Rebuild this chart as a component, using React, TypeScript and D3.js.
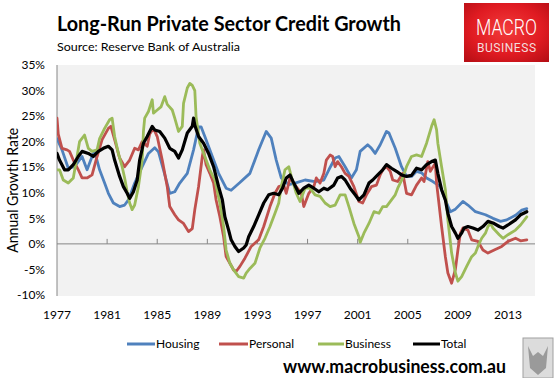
import React from 'react';
import * as d3 from 'd3';

const W = 557;
const H = 378;

// [year, annual growth %]
const housing: [number, number][] = [
  [1977.0, 20.6], [1977.4, 18.4], [1977.9, 14.8], [1978.4, 15.1], [1979.0, 17.1], [1979.4, 14.5],
  [1979.8, 17.1], [1980.0, 18.1], [1980.4, 14.5], [1980.8, 11.9], [1981.1, 9.9], [1981.5, 8.0],
  [1982.0, 7.3], [1982.4, 7.6], [1982.7, 8.6], [1983.2, 11.9], [1983.8, 15.1], [1984.3, 17.7],
  [1984.8, 18.8], [1985.1, 18.0], [1985.5, 14.5], [1986.0, 9.9], [1986.4, 10.2], [1986.8, 11.9],
  [1987.4, 13.8], [1987.9, 18.4], [1988.3, 22.9], [1988.5, 22.9], [1988.8, 21.0], [1989.4, 17.1],
  [1989.9, 13.8], [1990.5, 10.9], [1990.9, 10.5], [1991.6, 12.0], [1992.4, 13.8], [1993.1, 18.4],
  [1993.7, 22.0], [1994.1, 20.7], [1994.5, 16.4], [1994.9, 12.9], [1995.5, 11.6], [1996.0, 11.9],
  [1996.8, 12.5], [1997.6, 12.2], [1998.3, 12.5], [1998.7, 14.5], [1999.2, 16.8], [1999.5, 17.1],
  [2000.0, 15.1], [2000.5, 12.9], [2000.9, 14.5], [2001.2, 18.1], [2001.8, 19.4], [2002.1, 18.7],
  [2002.4, 17.7], [2002.8, 19.4], [2003.3, 22.0], [2003.5, 21.7], [2004.0, 18.7], [2004.5, 15.1],
  [2004.9, 13.2], [2005.3, 13.2], [2005.7, 14.2], [2006.1, 13.9], [2006.5, 12.9], [2007.0, 12.2],
  [2007.6, 11.2], [2008.0, 8.6], [2008.4, 6.3], [2008.8, 6.8], [2009.4, 8.3], [2009.8, 7.6],
  [2010.4, 6.3], [2011.2, 5.7], [2011.8, 5.0], [2012.4, 4.4], [2012.9, 4.7], [2013.6, 5.6],
  [2014.1, 6.6], [2014.5, 6.9],
];

const personal: [number, number][] = [
  [1977.0, 24.6], [1977.1, 21.5], [1977.4, 18.7], [1977.8, 18.4], [1978.0, 18.1], [1978.3, 16.4],
  [1978.7, 14.5], [1979.0, 12.9], [1979.4, 12.9], [1979.8, 13.5], [1980.2, 17.1], [1980.6, 20.4],
  [1981.1, 22.6], [1981.3, 23.0], [1981.6, 20.4], [1982.0, 16.8], [1982.4, 15.1], [1982.8, 16.4],
  [1983.2, 18.7], [1983.5, 18.4], [1983.8, 20.0], [1984.2, 19.1], [1984.4, 21.5], [1984.7, 22.6],
  [1985.0, 21.0], [1985.4, 16.4], [1985.8, 11.2], [1986.0, 7.3], [1986.4, 5.7], [1986.7, 4.7],
  [1987.1, 4.0], [1987.5, 2.4], [1987.8, 3.0], [1988.0, 6.7], [1988.3, 11.2], [1988.6, 17.1],
  [1988.7, 18.4], [1988.9, 15.5], [1989.2, 13.8], [1989.5, 11.9], [1989.7, 8.6], [1990.0, 5.3],
  [1990.3, 1.4], [1990.5, -2.5], [1990.8, -3.8], [1991.1, -5.1], [1991.3, -5.4], [1991.6, -4.4],
  [1992.0, -2.8], [1992.5, -0.5], [1993.1, 0.8], [1993.5, 3.4], [1994.0, 7.3], [1994.4, 9.9],
  [1994.7, 11.2], [1995.1, 11.5], [1995.3, 9.9], [1995.6, 12.9], [1996.0, 11.5], [1996.5, 9.9],
  [1996.7, 7.3], [1997.1, 9.9], [1997.5, 11.2], [1997.7, 12.9], [1998.0, 11.9], [1998.3, 13.8],
  [1998.5, 16.4], [1998.8, 17.4], [1999.0, 17.1], [1999.2, 15.1], [1999.4, 16.1], [1999.7, 15.1],
  [2000.0, 13.8], [2000.3, 13.2], [2000.7, 11.2], [2001.1, 8.3], [2001.4, 8.0], [2001.7, 9.6],
  [2002.1, 11.2], [2002.5, 11.5], [2002.8, 13.5], [2003.0, 14.5], [2003.3, 15.1], [2003.6, 14.2],
  [2003.8, 12.5], [2004.2, 12.2], [2004.6, 13.8], [2004.9, 9.9], [2005.3, 9.6], [2005.7, 11.5],
  [2006.1, 12.9], [2006.3, 12.2], [2006.6, 16.1], [2006.8, 14.2], [2007.2, 15.8], [2007.3, 11.9],
  [2007.7, 3.4], [2008.0, -2.5], [2008.2, -5.7], [2008.5, -7.7], [2008.8, -5.0], [2009.0, -1.2],
  [2009.2, 2.1], [2009.4, 3.1], [2009.8, 2.7], [2010.1, 0.8], [2010.6, 0.5], [2011.0, -1.2],
  [2011.4, -1.8], [2011.9, -1.2], [2012.5, -0.5], [2013.0, 0.5], [2013.6, 1.1], [2014.0, 0.6],
  [2014.5, 0.8],
];

const business: [number, number][] = [
  [1977.0, 14.5], [1977.2, 14.5], [1977.5, 12.5], [1977.9, 11.9], [1978.3, 12.9], [1978.6, 17.1],
  [1978.8, 20.0], [1979.2, 21.3], [1979.5, 18.7], [1979.8, 18.1], [1980.2, 18.4], [1980.4, 20.6],
  [1980.8, 22.6], [1981.2, 24.3], [1981.4, 24.6], [1981.6, 21.0], [1981.9, 17.7], [1982.2, 15.1],
  [1982.4, 12.9], [1982.6, 10.2], [1982.8, 8.0], [1983.0, 6.7], [1983.2, 7.6], [1983.5, 11.2],
  [1983.8, 16.4], [1983.9, 22.0], [1984.0, 24.6], [1984.3, 25.9], [1984.6, 28.2], [1984.7, 25.6],
  [1985.0, 26.2], [1985.3, 26.8], [1985.6, 28.8], [1985.8, 27.3], [1986.2, 26.2], [1986.4, 24.6],
  [1986.7, 22.0], [1987.0, 23.0], [1987.1, 27.5], [1987.4, 30.5], [1987.6, 31.4], [1987.8, 31.0],
  [1988.0, 30.0], [1988.1, 24.9], [1988.4, 19.7], [1988.8, 17.1], [1989.2, 14.5], [1989.6, 12.5],
  [1990.0, 8.0], [1990.3, 3.4], [1990.5, -1.2], [1990.8, -3.8], [1991.1, -5.1], [1991.5, -6.4],
  [1991.9, -6.7], [1992.1, -5.7], [1992.4, -4.8], [1992.8, -3.8], [1993.2, -0.8], [1993.6, 1.1],
  [1994.0, 3.4], [1994.4, 6.0], [1994.7, 8.0], [1994.9, 11.2], [1995.2, 14.5], [1995.5, 15.1],
  [1995.7, 13.2], [1996.1, 9.9], [1996.4, 8.3], [1996.8, 10.9], [1997.2, 10.9], [1997.6, 9.6],
  [1998.0, 9.3], [1998.4, 8.0], [1998.8, 7.3], [1999.2, 7.6], [1999.6, 9.6], [2000.0, 9.6],
  [2000.3, 7.3], [2000.7, 4.0], [2001.1, 1.4], [2001.2, 0.3], [2001.5, 2.1], [2001.9, 4.0],
  [2002.3, 6.3], [2002.7, 6.0], [2003.0, 7.3], [2003.3, 7.3], [2003.7, 8.6], [2004.0, 9.6],
  [2004.2, 10.9], [2004.6, 12.9], [2004.9, 15.1], [2005.3, 17.1], [2005.7, 17.4], [2006.1, 17.1],
  [2006.5, 19.7], [2006.9, 23.0], [2007.1, 24.3], [2007.3, 22.3], [2007.4, 19.7], [2007.7, 15.1],
  [2008.0, 10.6], [2008.2, 4.7], [2008.5, -1.8], [2008.8, -5.7], [2009.0, -7.3], [2009.3, -6.4],
  [2009.7, -4.4], [2010.1, -2.5], [2010.4, -1.8], [2010.6, -0.5], [2010.9, 1.1], [2011.2, 2.1],
  [2011.4, 3.4], [2011.6, 4.0], [2011.8, 3.1], [2012.3, 1.8], [2012.6, 1.1], [2013.0, 1.8],
  [2013.6, 2.7], [2014.0, 3.7], [2014.5, 5.3],
];

const total: [number, number][] = [
  [1977.0, 17.7], [1977.2, 16.4], [1977.6, 14.5], [1977.9, 14.5], [1978.3, 15.5], [1978.7, 17.1],
  [1979.0, 18.1], [1979.5, 17.7], [1979.9, 17.1], [1980.3, 18.1], [1980.7, 18.7], [1981.1, 19.1],
  [1981.4, 18.4], [1981.6, 16.4], [1982.0, 13.2], [1982.3, 11.2], [1982.6, 9.9], [1982.8, 8.9],
  [1983.1, 10.2], [1983.4, 12.5], [1983.6, 16.4], [1983.9, 19.7], [1984.2, 21.0], [1984.6, 23.0],
  [1984.8, 22.3], [1985.2, 22.0], [1985.6, 20.7], [1986.0, 18.7], [1986.4, 18.1], [1986.7, 16.8],
  [1987.0, 18.4], [1987.4, 21.7], [1987.8, 23.0], [1987.9, 24.6], [1988.0, 23.2], [1988.3, 21.0],
  [1988.7, 19.7], [1989.1, 17.7], [1989.5, 15.1], [1989.9, 11.2], [1990.2, 8.6], [1990.4, 5.3],
  [1990.7, 2.7], [1990.9, 0.8], [1991.2, -0.5], [1991.5, -1.5], [1991.9, -0.8], [1992.1, -0.2],
  [1992.3, 1.4], [1992.7, 3.4], [1993.1, 5.7], [1993.5, 8.0], [1993.9, 9.6], [1994.3, 9.9],
  [1994.7, 9.6], [1995.0, 10.9], [1995.3, 12.9], [1995.6, 13.5], [1995.9, 11.9], [1996.3, 9.9],
  [1996.7, 10.9], [1997.1, 11.5], [1997.5, 10.9], [1997.9, 10.2], [1998.3, 10.9], [1998.6, 10.6],
  [1999.1, 11.5], [1999.4, 12.9], [1999.7, 13.2], [2000.0, 12.5], [2000.4, 10.9], [2000.8, 9.6],
  [2001.1, 8.6], [2001.5, 9.6], [2001.9, 11.9], [2002.2, 12.5], [2002.6, 13.5], [2003.0, 14.5],
  [2003.3, 15.5], [2003.7, 14.8], [2004.1, 14.2], [2004.5, 13.5], [2004.9, 13.2], [2005.3, 13.4],
  [2005.7, 14.8], [2006.1, 14.5], [2006.5, 15.5], [2006.9, 16.1], [2007.2, 16.4], [2007.4, 13.8],
  [2007.7, 10.6], [2008.0, 8.6], [2008.2, 6.0], [2008.5, 3.4], [2008.8, 2.1], [2009.0, 1.1],
  [2009.3, 2.1], [2009.5, 3.1], [2009.8, 3.4], [2010.2, 3.1], [2010.6, 2.7], [2011.0, 3.4],
  [2011.4, 4.4], [2011.8, 4.1], [2012.3, 3.4], [2012.6, 3.1], [2013.0, 3.7], [2013.6, 4.7],
  [2014.0, 5.7], [2014.5, 6.3],
];

const seriesNames = ['Housing', 'Personal', 'Business', 'Total'];
const seriesColors = ['#4f81bd', '#c0504d', '#9bbb59', '#000000'];
const yTicks = [-10, -5, 0, 5, 10, 15, 20, 25, 30, 35];
const xTickYears = [1977, 1981, 1985, 1989, 1993, 1997, 2001, 2005, 2009, 2013];

const title = 'Long-Run Private Sector Credit Growth';
const subtitle = 'Source: Reserve Bank of Australia';
const yAxisTitle = 'Annual Growth Rate';
const footer = 'www.macrobusiness.com.au';

export default function App() {
  const plotLeft = 57;
  const plotRight = 535;
  const plotTop = 65;
  const plotBottom = 296;

  const x = d3.scaleLinear().domain([1977, 2013]).range([57, 508]);
  const y = d3.scaleLinear().domain([-10, 35]).range([295, 65]);
  const line = d3
    .line<[number, number]>()
    .x((d) => x(d[0]))
    .y((d) => y(d[1]));

  const allSeries = [housing, personal, business, total];
  const font = 'Lato, "Open Sans", sans-serif';

  const legendItems = [
    { lx: 127, tx: 156 },
    { lx: 219, tx: 249 },
    { lx: 318, tx: 345 },
    { lx: 413, tx: 441 },
  ];
  const legendY = 344;

  return (
    <svg
      width={W}
      height={H}
      style={{ position: 'absolute', left: 0, top: 0, background: '#fff' }}
      fontFamily={font}
    >
      <defs>
        <radialGradient id="logoGrad" cx="50%" cy="45%" r="70%">
          <stop offset="0%" stopColor="#f23b3b" />
          <stop offset="60%" stopColor="#e01b22" />
          <stop offset="100%" stopColor="#b80f16" />
        </radialGradient>
        <clipPath id="plotClip">
          <rect x={plotLeft} y={plotTop} width={plotRight - plotLeft} height={plotBottom - plotTop} />
        </clipPath>
      </defs>

      {/* Title */}
      <text x={57} y={31} fontSize={20} fontWeight="bold" fill="#000" textLength={344} lengthAdjust="spacingAndGlyphs">
        {title}
      </text>
      <text x={57} y={51} fontSize={11.5} fill="#000" textLength={183} lengthAdjust="spacingAndGlyphs">
        {subtitle}
      </text>

      {/* Logo */}
      <rect x={464} y={3} width={85} height={59} fill="url(#logoGrad)" />
      <text x={506.5} y={35} fontSize={22} fill="#fff" textAnchor="middle" fontFamily="Roboto, sans-serif" fontWeight={300} textLength={61} lengthAdjust="spacingAndGlyphs">
        MACRO
      </text>
      <text x={506.5} y={52} fontSize={12} fill="#f3dede" textAnchor="middle" fontFamily="Roboto, sans-serif" textLength={59} lengthAdjust="spacing">
        BUSINESS
      </text>

      {/* Plot area */}
      <rect x={plotLeft} y={plotTop} width={plotRight - plotLeft} height={plotBottom - plotTop} fill="#f2f2f2" />

      {/* Y axis */}
      <line x1={plotLeft} x2={plotLeft} y1={plotTop} y2={plotBottom} stroke="#868686" strokeWidth={1} />
      {yTicks.map((t) => (
        <text key={t} x={45} y={y(t)} dy="0.35em" fontSize={12} textAnchor="end" fill="#000">
          {`${t}%`}
        </text>
      ))}
      <text
        transform={`translate(18, ${y(10.5)}) rotate(-90)`}
        fontSize={14.5}
        textAnchor="middle"
        fill="#000"
        textLength={125}
        lengthAdjust="spacingAndGlyphs"
      >
        {yAxisTitle}
      </text>

      {/* X axis */}
      <line x1={plotLeft} x2={plotRight} y1={y(0)} y2={y(0)} stroke="#868686" strokeWidth={1} />
      {xTickYears.map((yr) => (
        <g key={yr}>
          {yr !== 1977 && (
            <line x1={x(yr)} x2={x(yr)} y1={y(0)} y2={y(0) - 5} stroke="#868686" strokeWidth={1} />
          )}
          <text x={x(yr)} y={319} fontSize={12} textAnchor="middle" fill="#000">
            {yr}
          </text>
        </g>
      ))}

      {/* Series */}
      <g clipPath="url(#plotClip)">
        {allSeries.map((s, i) => (
          <path
            key={seriesNames[i]}
            d={line(s) || ''}
            fill="none"
            stroke={seriesColors[i]}
            strokeWidth={i === 3 ? 3.2 : 2.8}
            strokeLinejoin="round"
            strokeLinecap="round"
          />
        ))}
      </g>

      {/* Legend */}
      {seriesNames.map((n, i) => (
        <g key={n}>
          <line
            x1={legendItems[i].lx}
            x2={legendItems[i].tx - 1}
            y1={legendY}
            y2={legendY}
            stroke={seriesColors[i]}
            strokeWidth={3}
          />
          <text x={legendItems[i].tx} y={legendY} dy="0.35em" fontSize={12} fill="#000">
            {n}
          </text>
        </g>
      ))}

      {/* Footer */}
      <text x={283} y={373} fontSize={18} fontWeight="bold" fill="#000" textLength={223} lengthAdjust="spacingAndGlyphs">
        {footer}
      </text>
      <rect x={523} y={338} width={30} height={40} fill="#dcdcdc" stroke="#a0a0a0" strokeWidth={1} />
      <path d="M528,346 L533,356 L538,352 L543,356 L548,346 L546,368 L538,375 L530,368 Z" fill="#9a9a9a" />
    </svg>
  );
}
